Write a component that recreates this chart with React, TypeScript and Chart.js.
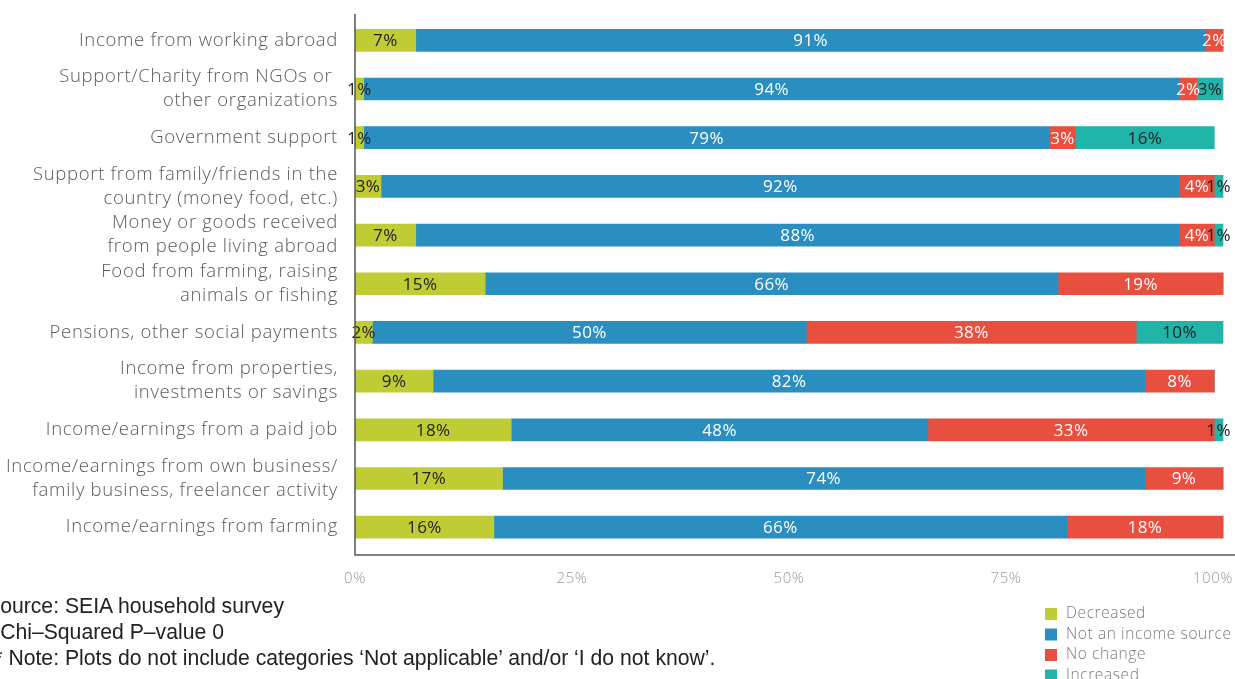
import React, { useEffect, useRef } from "react";
import { Chart, registerables } from "chart.js";

Chart.register(...registerables);

const categories: string[][] = [
  ["Income from working abroad"],
  ["Support/Charity from NGOs or ", "other organizations"],
  ["Government support"],
  ["Support from family/friends in the", "country (money food, etc.)"],
  ["Money or goods received", "from people living abroad"],
  ["Food from farming, raising", "animals or fishing"],
  ["Pensions, other social payments"],
  ["Income from properties,", "investments or savings"],
  ["Income/earnings from a paid job"],
  ["Income/earnings from own business/", "family business, freelancer activity"],
  ["Income/earnings from farming"],
];

const seriesNames = ["Decreased", "Not an income source", "No change", "Increased"];
const decreased = [7, 1, 1, 3, 7, 15, 2, 9, 18, 17, 16];
const notIncome = [91, 94, 79, 92, 88, 66, 50, 82, 48, 74, 66];
const noChange = [2, 2, 3, 4, 4, 19, 38, 8, 33, 9, 18];
const increased = [0, 3, 16, 1, 1, 0, 10, 0, 1, 0, 0];

const xTicks = [0, 25, 50, 75, 100];
const xTickLabels = ["0%", "25%", "50%", "75%", "100%"];

const colors = ["#bfcc33", "#2a8ec0", "#e94f3f", "#21b4a9"];
const labelColors = ["#222222", "#ffffff", "#ffffff", "#222222"];

const footnotes = [
  "Source: SEIA household survey",
  "* Chi\u2013Squared P\u2013value 0",
  "** Note: Plots do not include categories \u2018Not applicable\u2019 and/or \u2018I do not know\u2019.",
];

const FONT = "'Open Sans', 'Noto Sans', sans-serif";

const spacingPlugin = {
  id: "spacing",
  beforeDraw(chart: any) {
    chart.ctx.letterSpacing = "0.7px";
  },
  afterDraw(chart: any) {
    chart.ctx.letterSpacing = "0px";
  },
};

const barLabelPlugin = {
  id: "barLabels",
  afterDatasetsDraw(chart: any) {
    const ctx = chart.ctx;
    ctx.save();
    ctx.letterSpacing = "0.4px";
    ctx.font = `400 17px ${FONT}`;
    ctx.textAlign = "center";
    ctx.textBaseline = "middle";
    chart.data.datasets.forEach((ds: any, di: number) => {
      const meta = chart.getDatasetMeta(di);
      meta.data.forEach((el: any, i: number) => {
        const v = ds.data[i];
        if (!v) return;
        const p = el.getProps(["x", "y", "base"], true);
        ctx.fillStyle = labelColors[di];
        ctx.fillText(v + "%", (p.x + p.base) / 2, p.y + 1);
      });
    });
    ctx.restore();
  },
};

const extrasPlugin = {
  id: "extras",
  afterDraw(chart: any) {
    const ctx = chart.ctx;
    const xs = chart.scales.x;
    const area = chart.chartArea;
    ctx.save();
    // axis lines
    ctx.strokeStyle = "#555555";
    ctx.lineWidth = 1.5;
    ctx.beginPath();
    ctx.moveTo(area.left, area.top - 2);
    ctx.lineTo(area.left, area.bottom + 3.5);
    ctx.lineTo(chart.width, area.bottom + 3.5);
    ctx.stroke();

    ctx.letterSpacing = "0.6px";
    // x tick labels
    ctx.font = `300 15px ${FONT}`;
    ctx.fillStyle = "#9a9a9a";
    ctx.textBaseline = "middle";
    ctx.textAlign = "left";
    xTicks.forEach((t, i) => {
      const txt = xTickLabels[i];
      const w = ctx.measureText(txt).width;
      let left = xs.getPixelForValue(t) - w / 2;
      if (left + w > chart.width - 2) left = chart.width - 2 - w;
      ctx.fillText(txt, left, 579);
    });
    // legend
    ctx.font = `300 15.5px ${FONT}`;
    chart.data.datasets.forEach((ds: any, i: number) => {
      const y = 614 + i * 20.5;
      ctx.fillStyle = ds.backgroundColor;
      ctx.fillRect(1045, y - 6, 12, 12);
      ctx.fillStyle = "#7a7a7a";
      ctx.fillText(ds.label, 1066, y);
    });
    ctx.restore();
  },
};

export default function App() {
  const ref = useRef<HTMLCanvasElement>(null);

  useEffect(() => {
    if (!ref.current) return;
    const data = [decreased, notIncome, noChange, increased];
    const chart = new Chart(ref.current, {
      type: "bar",
      data: {
        labels: categories,
        datasets: data.map((d, i) => ({
          label: seriesNames[i],
          data: d,
          backgroundColor: colors[i],
          borderWidth: 0,
          barThickness: 22,
        })),
      },
      options: {
        indexAxis: "y",
        responsive: false,
        animation: false,
        layout: { padding: { top: 16, right: 0, left: 0, bottom: 0 } },
        plugins: {
          legend: { display: false },
          tooltip: { enabled: false },
          title: { display: false },
        },
        scales: {
          x: {
            type: "linear",
            stacked: true,
            min: 0,
            max: 100 * (1235 - 355) / 868,
            grid: { display: false, drawTicks: false },
            ticks: { display: false },
            border: { display: false },
            afterFit(scale: any) {
              scale.height = 679 - 551.5;
              scale.paddingLeft = 0;
              scale.paddingRight = 0;
            },
          },
          y: {
            stacked: true,
            grid: { display: false, drawTicks: false },
            border: { display: false },
            ticks: {
              autoSkip: false,
              color: "#5a5a5a",
              padding: 17,
              font: { family: FONT, size: 18.5, weight: "300", lineHeight: 24 / 18.5 },
            },
            afterFit(scale: any) {
              scale.width = 355;
              scale.paddingTop = 0;
              scale.paddingBottom = 0;
            },
          },
        },
      } as any,
      plugins: [spacingPlugin, barLabelPlugin, extrasPlugin],
    });
    return () => chart.destroy();
  }, []);

  return (
    <div style={{ position: "fixed", left: 0, top: 0, width: 1235, height: 679, overflow: "hidden", background: "#fff" }}>
      <canvas ref={ref} width={1235} height={679} style={{ position: "absolute", left: 0, top: 0 }} />
      {footnotes.map((t, i) => (
        <div
          key={i}
          style={{
            position: "absolute",
            left: -14,
            top: 594 + i * 26,
            fontFamily: "'Liberation Sans', Arial, sans-serif",
            fontSize: 21.2,
            lineHeight: "24px",
            color: "#222",
            whiteSpace: "nowrap",
          }}
        >
          {t}
        </div>
      ))}
    </div>
  );
}
